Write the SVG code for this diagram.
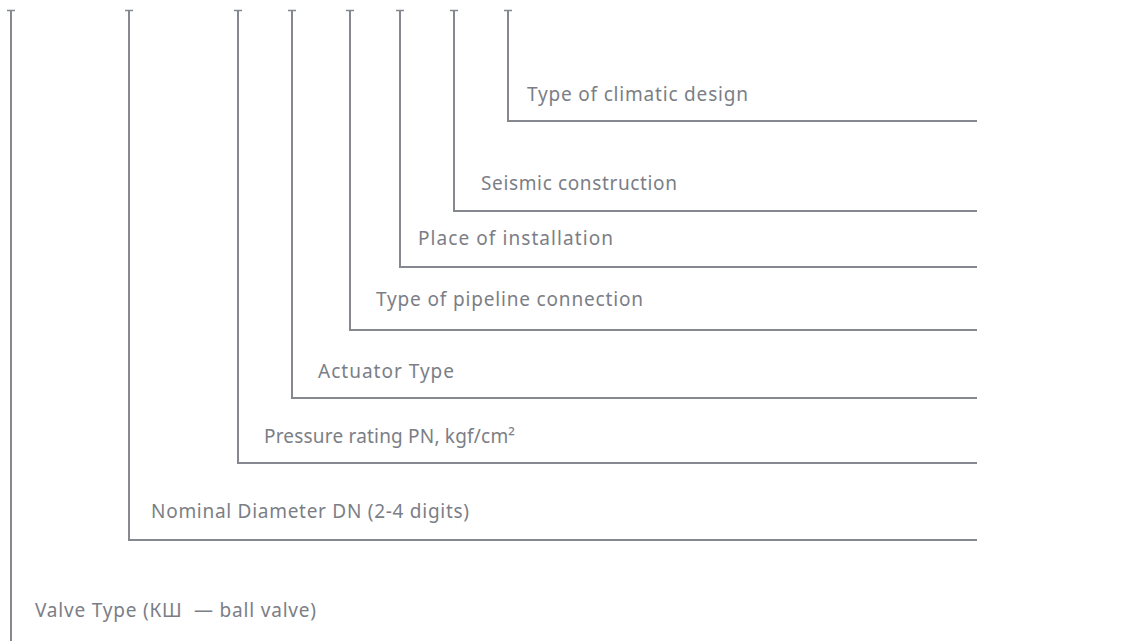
<svg xmlns="http://www.w3.org/2000/svg" width="1121" height="641" viewBox="0 0 1121 641">
<style>
.ln{fill:none;stroke:#85888e;stroke-width:2}
.tk{fill:none;stroke:#85888e;stroke-width:1.5}
.lb{font-family:"Noto Sans","Open Sans",sans-serif;font-size:19px;fill:#7b7e86}
</style>
<rect width="1121" height="641" fill="#ffffff"/>
<g id="connectors">
<path class="ln" d="M11 10V641"/>
<path class="ln" d="M129 10V540H977"/>
<path class="ln" d="M238 10V463H977"/>
<path class="ln" d="M292 10V398H977"/>
<path class="ln" d="M350 10V330H977"/>
<path class="ln" d="M400 10V267H977"/>
<path class="ln" d="M454 10V211H977"/>
<path class="ln" d="M508 10V121H977"/>
<path class="tk" d="M7 10.5H15M125 10.5H133M234 10.5H242M288 10.5H296M346 10.5H354M396 10.5H404M450 10.5H458M504 10.5H512"/>
</g>
<g id="climatic"><text class="lb" x="527" y="101" textLength="221">Type of climatic design</text></g>
<g id="seismic"><text class="lb" x="481" y="190" textLength="196">Seismic construction</text></g>
<g id="place"><text class="lb" x="418" y="245" textLength="195">Place of installation</text></g>
<g id="pipeline"><text class="lb" x="376" y="306" textLength="267">Type of pipeline connection</text></g>
<g id="actuator"><text class="lb" x="318" y="378" textLength="136">Actuator Type</text></g>
<g id="pressure"><text class="lb" x="264" y="443" textLength="251">Pressure rating PN, kgf/cm²</text></g>
<g id="nominal"><text class="lb" x="151" y="518" textLength="318">Nominal Diameter DN (2-4 digits)</text></g>
<g id="valve"><text class="lb" x="35" y="617" textLength="281">Valve Type (КШ&#160; — ball valve)</text></g>
</svg>
